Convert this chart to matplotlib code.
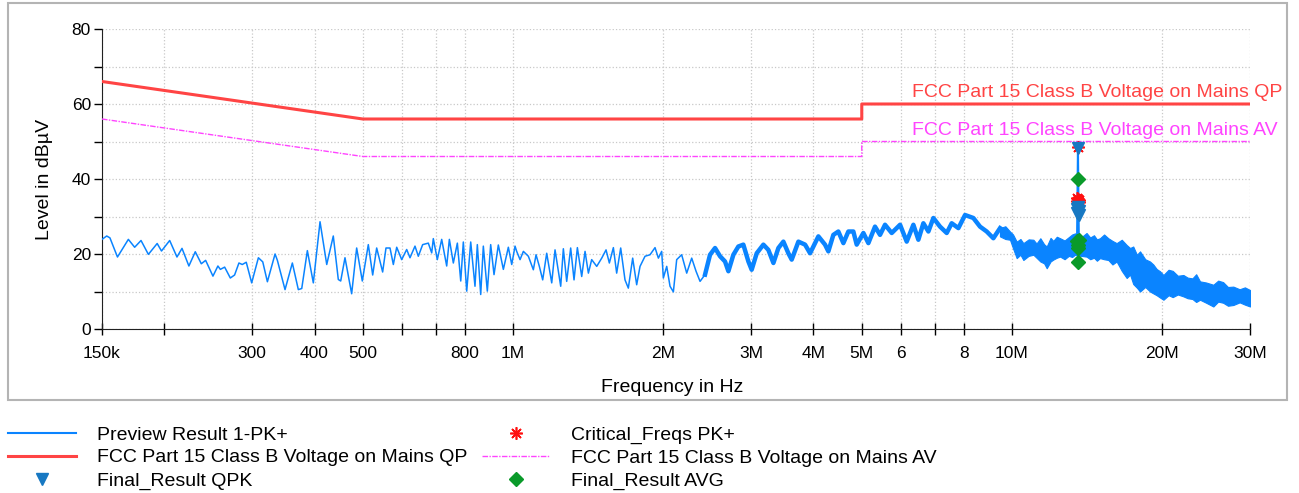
import numpy as np
import matplotlib
matplotlib.use('Agg')
import matplotlib.pyplot as plt
from matplotlib.lines import Line2D
from matplotlib.patches import Rectangle

plt.rcParams['font.family'] = ['Liberation Sans', 'DejaVu Sans']

# preview scan (MHz, dBuV), thin part + thick part up to 9.5 MHz
trace_mhz = [
    0.150, 0.1533, 0.1556, 0.1611, 0.1694, 0.1744, 0.1796, 0.1858, 0.1935, 0.1974,
    0.2050, 0.2120, 0.2170, 0.2240, 0.2307, 0.2372, 0.2420, 0.2503, 0.2561, 0.2590,
    0.2642, 0.2712, 0.2766, 0.2822, 0.2866, 0.2919, 0.2993, 0.3087, 0.3150, 0.3218,
    0.3334, 0.3370, 0.3491, 0.3611, 0.3712, 0.3771, 0.3870, 0.3978, 0.4103, 0.4232,
    0.4362, 0.4464, 0.4514, 0.4604, 0.4748, 0.4859, 0.4987, 0.5127, 0.5232, 0.5329,
    0.5478, 0.5563, 0.5667, 0.5755, 0.5845, 0.5981, 0.6121, 0.6215, 0.6360, 0.6458,
    0.6589, 0.6763, 0.6870, 0.6921, 0.7050, 0.7194, 0.7362, 0.7453, 0.7591, 0.7733,
    0.7855, 0.7949, 0.8075, 0.8225, 0.8389, 0.8480, 0.8613, 0.8718, 0.8880, 0.9019,
    0.9159, 0.9343, 0.9562, 0.9785, 0.9939, 1.0092, 1.0169, 1.0328, 1.0488, 1.0732,
    1.0982, 1.1119, 1.1290, 1.1466, 1.1680, 1.1954, 1.2138, 1.2460, 1.2613, 1.2809,
    1.3047, 1.3250, 1.3456, 1.3728, 1.3941, 1.4158, 1.4375, 1.4713, 1.5056, 1.5360,
    1.5596, 1.5888, 1.6132, 1.6435, 1.6764, 1.7024, 1.7369, 1.7693, 1.7968, 1.8387,
    1.8817, 1.9256, 1.9556, 1.9856, 2.0010, 2.0324, 2.0636, 2.0957, 2.1281, 2.1777,
    2.2288, 2.2808, 2.3270, 2.3704, 2.4255, 2.4820, 2.5403, 2.5996, 2.6601, 2.7015,
    2.7644, 2.8288, 2.8947, 2.9628, 3.0082, 3.0789, 3.1749, 3.2489, 3.3253, 3.4028,
    3.4820, 3.5631, 3.6185, 3.7319, 3.8488, 3.9384, 4.0926, 4.2201, 4.2855, 4.3853,
    4.4875, 4.5929, 4.6999, 4.8094, 4.8842, 5.0372, 5.1546, 5.3148, 5.4397, 5.5664,
    5.7410, 5.9665, 6.1523, 6.3445, 6.4924, 6.6437, 6.8000, 6.9584, 7.1750, 7.3997,
    7.5722, 7.8094, 8.0528, 8.3681, 8.6297, 8.8992, 9.1772, 9.4651]
trace_dbuv = [
    23.9, 24.8, 24.3, 19.2, 23.9, 21.8, 23.6, 19.9, 22.8, 20.8,
    23.6, 19.2, 21.5, 16.8, 20.6, 17.4, 18.3, 14.1, 16.8, 15.9,
    16.5, 13.6, 14.4, 17.6, 17.2, 17.8, 12.3, 19.0, 17.9, 12.6,
    20.0, 18.3, 10.5, 17.6, 10.5, 10.8, 20.9, 12.3, 28.6, 17.2,
    24.8, 13.2, 12.8, 19.0, 9.4, 21.6, 12.8, 22.5, 14.4, 21.6,
    15.2, 21.6, 21.6, 17.2, 21.8, 18.5, 21.2, 19.0, 22.1, 19.4,
    22.5, 22.9, 20.3, 24.1, 18.5, 23.9, 16.8, 23.9, 17.6, 22.9,
    12.8, 23.2, 10.1, 23.2, 11.4, 22.5, 9.2, 22.1, 10.1, 22.5,
    14.5, 22.4, 15.9, 21.8, 17.2, 22.1, 20.7, 18.5, 20.7, 19.4,
    15.8, 19.8, 16.7, 13.1, 20.2, 12.3, 21.1, 11.4, 21.4, 12.7,
    21.6, 13.1, 21.7, 14.0, 20.7, 14.9, 18.5, 16.7, 18.9, 21.1,
    17.6, 21.7, 14.9, 21.6, 13.1, 10.9, 18.9, 11.8, 16.7, 19.4,
    19.8, 21.7, 18.9, 20.7, 13.6, 16.7, 11.4, 9.9, 18.5, 19.8,
    14.9, 18.9, 15.4, 12.7, 14.5, 19.8, 21.6, 19.4, 18.0, 15.4,
    19.8, 22.0, 22.5, 18.0, 15.8, 20.2, 22.5, 21.1, 17.6, 21.6,
    23.3, 20.2, 18.5, 23.3, 22.5, 20.2, 24.7, 22.5, 20.7, 25.1,
    26.0, 22.9, 26.0, 26.0, 22.5, 25.6, 22.9, 27.3, 25.1, 27.8,
    25.6, 27.8, 23.3, 27.8, 23.8, 28.2, 26.0, 29.6, 27.3, 25.6,
    28.2, 26.9, 30.4, 29.6, 27.3, 26.0, 24.2, 26.9]

# dense part of the scan above 9.5 MHz, read as an envelope
band_mhz = [9.46, 9.70, 9.91, 10.05, 10.22, 10.40, 10.54, 10.80, 11.04, 11.20,
            11.40, 11.60, 11.74, 11.95, 12.10, 12.30, 12.49, 12.75, 13.00, 13.20,
            13.38, 13.75, 14.11, 14.35, 14.60, 14.80, 15.01, 15.30, 15.60, 15.90,
            16.21, 16.60, 16.98, 17.25, 17.50, 17.80, 18.06, 18.50, 18.91, 19.20,
            19.50, 19.80, 20.12, 20.60, 21.00, 21.50, 22.06, 22.50, 23.00, 23.40,
            23.82, 24.50, 25.33, 25.90, 26.50, 27.10, 27.78, 28.60, 29.30, 30.00]
band_hi = [26.9, 27.4, 26.0, 25.2, 23.3, 24.0, 22.9, 23.9, 23.8, 22.8,
           24.2, 22.6, 22.0, 24.3, 23.5, 24.6, 24.2, 23.6, 24.5, 25.2,
           25.5, 24.4, 25.6, 24.4, 25.0, 23.9, 24.2, 25.2, 24.2, 23.5,
           22.9, 23.8, 22.4, 21.6, 22.0, 19.8, 20.7, 18.6, 18.0, 17.2,
           16.0, 15.4, 14.4, 15.8, 15.5, 14.2, 14.4, 13.7, 13.5, 14.6,
           12.7, 12.4, 11.8, 12.9, 12.5, 11.2, 11.3, 10.6, 11.1, 10.4]
band_lo = [24.7, 24.0, 23.8, 21.5, 18.9, 19.8, 18.4, 19.5, 19.8, 19.0,
           18.0, 17.5, 16.2, 18.0, 18.5, 19.0, 19.3, 18.6, 19.5, 19.2,
           19.8, 19.5, 19.3, 18.6, 19.0, 18.2, 18.9, 18.6, 18.4, 17.2,
           18.0, 15.5, 13.6, 14.5, 12.0, 11.0, 10.0, 11.2, 10.0, 9.5,
           9.0, 8.4, 7.8, 9.0, 8.5, 9.2, 8.7, 8.2, 8.0, 7.2,
           7.8, 7.0, 6.0, 7.3, 7.0, 6.2, 6.4, 7.1, 6.5, 6.0]

# 13.56 MHz spike
spike_mhz = [13.50, 13.56, 13.62]
spike_dbuv = [22.0, 48.2, 22.0]

# limits
lim_mhz = [0.15, 0.5, 0.5, 5.0, 5.0, 30.0]
qp_limit = [66, 56, 56, 56, 60, 60]
av_limit = [56, 46, 46, 46, 50, 50]

# final measurements
crit_mhz = [13.56, 13.48, 13.52, 13.56, 13.60, 13.64]
crit_dbuv = [48.6, 34.2, 35.0, 34.8, 34.4, 33.8]
qpk_mhz = [13.56, 13.48, 13.52, 13.56, 13.60, 13.64]
qpk_dbuv = [48.2, 31.0, 32.0, 32.5, 31.5, 30.5]
avg_mhz = [13.56, 13.50, 13.54, 13.56, 13.62, 13.58]
avg_dbuv = [40.0, 23.5, 18.0, 22.5, 23.8, 21.5]

tick_mhz = [0.15, 0.2, 0.3, 0.4, 0.5, 0.6, 0.7, 0.8, 1, 2, 3, 4, 5, 6, 7, 8, 10, 20, 30]
tick_lbl = ['150k', '', '300', '400', '500', '', '', '800', '1M', '2M', '3M', '4M',
            '5M', '6', '', '8', '10M', '20M', '30M']

c_trace = '#0a84ff'
c_qp = '#ff4444'
c_av = '#ff44ff'
c_qpk = '#1778c2'
c_avg = '#0a9a2a'

fig = plt.figure(figsize=(12.99, 4.93), dpi=100)
ax = fig.add_axes([102 / 1299, 1 - 329 / 493, 1148 / 1299, 300 / 493])
fig.add_artist(Rectangle((8 / 1299, 1 - 400 / 493), 1279 / 1299, 397 / 493,
                         transform=fig.transFigure, fill=False,
                         edgecolor='#b4b4b4', lw=1.5))

f = np.array(trace_mhz)
v = np.array(trace_dbuv)
thin = f <= 2.49
ax.plot(f[thin], v[thin], color=c_trace, lw=1.1, zorder=3)
ax.plot(f[f >= 2.42], v[f >= 2.42], color=c_trace, lw=3.2, zorder=3)
ax.fill_between(band_mhz, band_lo, band_hi, color=c_trace, lw=0.8, zorder=3)
ax.plot(spike_mhz, spike_dbuv, color=c_trace, lw=1.5, zorder=3)

ax.plot(lim_mhz, qp_limit, color=c_qp, lw=2.2, zorder=4)
ax.plot(lim_mhz, av_limit, color=c_av, lw=1.0, ls=(0, (4, 1, 1, 1)), zorder=4)
ax.text(6.29, 61.8, 'FCC Part 15 Class B Voltage on Mains QP', color=c_qp,
        fontsize=14, ha='left', va='baseline')
ax.text(6.29, 51.7, 'FCC Part 15 Class B Voltage on Mains AV', color=c_av,
        fontsize=14, ha='left', va='baseline')

ax.plot(crit_mhz, crit_dbuv, ls='none', marker=(8, 2, 0), ms=9, mew=1.2,
        color='#ff1010', zorder=5)
ax.plot(qpk_mhz, qpk_dbuv, ls='none', marker='v', ms=9, color=c_qpk, zorder=6)
ax.plot(avg_mhz, avg_dbuv, ls='none', marker='D', ms=7, color=c_avg, zorder=7)

ax.set_xscale('log')
ax.set_xlim(0.15, 30)
ax.set_ylim(0, 80)
ax.set_xticks(tick_mhz)
ax.set_xticklabels(tick_lbl)
ax.xaxis.set_minor_locator(matplotlib.ticker.NullLocator())
ax.set_yticks([0, 20, 40, 60, 80])
ax.set_yticks([10, 30, 50, 70], minor=True)
ax.tick_params(axis='x', direction='inout', length=8, width=1, labelsize=12.5, pad=8)
ax.tick_params(axis='y', which='both', direction='out', length=6, width=1,
               labelsize=12.5, pad=2)
ax.grid(True, which='both', color='#c8c8c8', ls=':', lw=0.9)
for s in ['top', 'right']:
    ax.spines[s].set_visible(False)
for s in ['left', 'bottom']:
    ax.spines[s].set_color('#202020')

ax.set_xlabel('Frequency in Hz', fontsize=14)
ax.xaxis.set_label_coords(0.4965, -0.165)
ax.set_ylabel('Level in dB\u00b5V', fontsize=14)
ax.yaxis.set_label_coords(-0.043, 0.5)

h1 = [Line2D([], [], color=c_trace, lw=1.5),
      Line2D([], [], color=c_qp, lw=2.2),
      Line2D([], [], ls='none', marker='v', ms=9, color=c_qpk)]
l1 = ['Preview Result 1-PK+', 'FCC Part 15 Class B Voltage on Mains QP', 'Final_Result QPK']
h2 = [Line2D([], [], ls='none', marker=(8, 2, 0), ms=9, mew=1.2, color='#ff1010'),
      Line2D([], [], color=c_av, lw=1.0, ls=(0, (4, 1, 1, 1))),
      Line2D([], [], ls='none', marker='D', ms=7, color=c_avg)]
l2 = ['Critical_Freqs PK+', 'FCC Part 15 Class B Voltage on Mains AV', 'Final_Result AVG']
for h, l, x0 in [(h1, l1, 8), (h2, l2, 482)]:
    fig.legend(h, l, loc='upper left', bbox_to_anchor=(x0 / 1299, 1 - 426 / 493),
               frameon=False, fontsize=14, handlelength=3.5, handletextpad=1.1,
               labelspacing=0.27, borderpad=0, borderaxespad=0)

fig.savefig('out.png', dpi=100)
